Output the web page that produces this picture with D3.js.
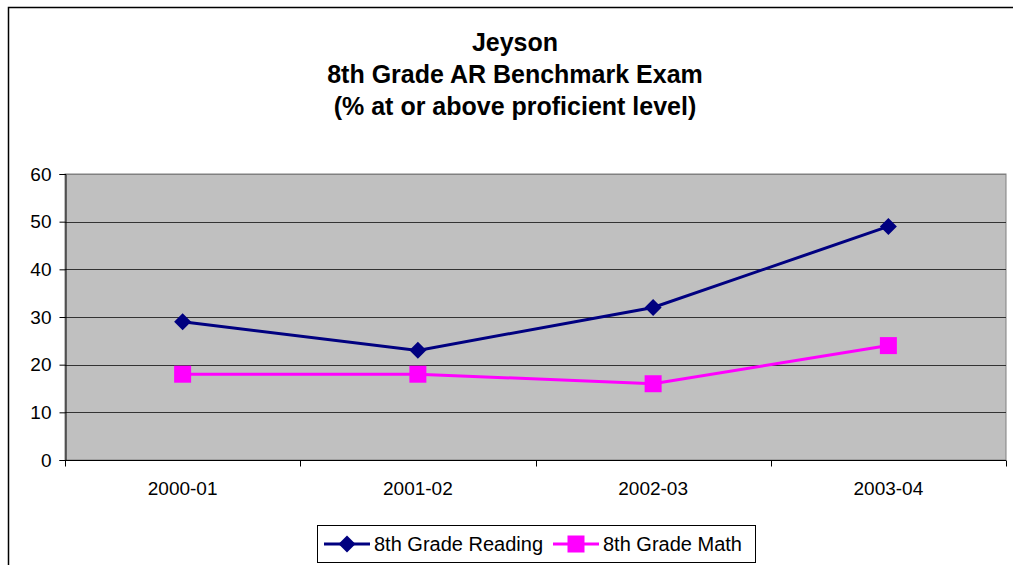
<!DOCTYPE html>
<html>
<head>
<meta charset="utf-8">
<script src="https://cdn.jsdelivr.net/npm/d3@7"></script>
<style>
  body { margin: 0; background: #fff; }
  svg { display: block; font-family: "Liberation Sans", Arial, sans-serif; }
</style>
</head>
<body>
<svg id="chart" width="1013" height="565"></svg>
<script>
const categories = ["2000-01", "2001-02", "2002-03", "2003-04"];
const readingValues = [29, 23, 32, 49];
const mathValues = [18, 18, 16, 24];
const yTicks = [0, 10, 20, 30, 40, 50, 60];
const titleLines = ["Jeyson", "8th Grade AR Benchmark Exam", "(% at or above proficient level)"];

const series = [
    { name: "8th Grade Reading", values: readingValues, color: "#000080", marker: "diamond" },
    { name: "8th Grade Math", values: mathValues, color: "#FF00FF", marker: "square" },
];

const svg = d3.select("#chart");

// Outer chart border (runs off the right and bottom of the picture)
svg.append("rect")
    .attr("x", 8.5).attr("y", 7.5)
    .attr("width", 1020).attr("height", 580)
    .attr("fill", "#fff")
    .attr("stroke", "#000").attr("stroke-width", 1.5);

// Title
svg.append("g")
    .selectAll("text")
    .data(titleLines)
    .enter()
    .append("text")
    .attr("x", 515)
    .attr("y", (d, i) => 51 + i * 32)
    .attr("text-anchor", "middle")
    .style("font-size", "25px")
    .style("font-weight", "bold")
    .text(d => d);

const plot = { left: 65, right: 1006, top: 174, bottom: 460 };

const xScale = d3.scaleBand()
    .domain(categories)
    .range([plot.left, plot.right]);

const yScale = d3.scaleLinear()
    .domain([0, 60])
    .range([plot.bottom, plot.top]);

// Plot background
svg.append("rect")
    .attr("x", plot.left).attr("y", plot.top)
    .attr("width", plot.right - plot.left)
    .attr("height", plot.bottom - plot.top)
    .attr("fill", "#C0C0C0")
    .attr("stroke", "#808080").attr("stroke-width", 1);

// Gridlines
svg.append("g")
    .selectAll("line")
    .data(yTicks.filter(d => d > 0))
    .enter()
    .append("line")
    .attr("x1", plot.left).attr("x2", plot.right)
    .attr("y1", d => Math.round(yScale(d)) + 0.5)
    .attr("y2", d => Math.round(yScale(d)) + 0.5)
    .attr("stroke", d => d === 60 ? "#808080" : "#333")
    .attr("stroke-width", 1);

// Y axis
const yAxis = svg.append("g")
    .attr("transform", `translate(${plot.left + 0.5},0)`)
    .call(d3.axisLeft(yScale).tickValues(yTicks).tickSize(6).tickPadding(8).tickFormat(d3.format("d")));
yAxis.selectAll("text").style("font-size", "19px").attr("fill", "#000");
yAxis.selectAll("line,path").attr("stroke", "#000");

// X axis with ticks at category boundaries
const xAxis = svg.append("g")
    .attr("transform", `translate(0,${plot.bottom + 0.5})`)
    .call(d3.axisBottom(xScale).tickSize(0).tickPadding(21));
xAxis.selectAll("text").style("font-size", "19px").attr("fill", "#000");
xAxis.select("path").attr("stroke", "#000").attr("d", `M${plot.left},0H${plot.right}`);

const boundaries = categories.map(c => xScale(c)).concat([xScale.range()[1]]);
xAxis.selectAll(".boundary")
    .data(boundaries)
    .enter()
    .append("line")
    .attr("class", "boundary")
    .attr("x1", d => Math.round(d) + 0.5).attr("x2", d => Math.round(d) + 0.5)
    .attr("y1", 0).attr("y2", 6)
    .attr("stroke", "#000");

const cx = c => xScale(c) + xScale.bandwidth() / 2;

function drawMarker(g, type, color) {
    if (type === "diamond") {
        g.append("path")
            .attr("d", "M0,-8.5L8.5,0L0,8.5L-8.5,0Z")
            .attr("fill", color);
    } else {
        g.append("rect")
            .attr("x", -8.5).attr("y", -8.5)
            .attr("width", 17).attr("height", 17)
            .attr("fill", color);
    }
}

const line = d3.line()
    .x((d, i) => cx(categories[i]))
    .y(d => yScale(d));

series.forEach(s => {
    svg.append("path")
        .datum(s.values)
        .attr("d", line)
        .attr("fill", "none")
        .attr("stroke", s.color)
        .attr("stroke-width", 3);
    s.values.forEach((v, i) => {
        const g = svg.append("g").attr("transform", `translate(${cx(categories[i])},${yScale(v)})`);
        drawMarker(g, s.marker, s.color);
    });
});

// Legend
const legend = svg.append("g");
legend.append("rect")
    .attr("x", 317.5).attr("y", 525.5)
    .attr("width", 438).attr("height", 37)
    .attr("fill", "#fff").attr("stroke", "#000");

const legendItems = [
    { s: series[0], x: 324 },
    { s: series[1], x: 553 },
];
legendItems.forEach(({ s, x }) => {
    legend.append("line")
        .attr("x1", x).attr("x2", x + 46)
        .attr("y1", 544).attr("y2", 544)
        .attr("stroke", s.color).attr("stroke-width", 3);
    const g = legend.append("g").attr("transform", `translate(${x + 23},544)`);
    drawMarker(g, s.marker, s.color);
    legend.append("text")
        .attr("x", x + 50).attr("y", 551)
        .style("font-size", "20px")
        .text(s.name);
});
</script>
</body>
</html>
